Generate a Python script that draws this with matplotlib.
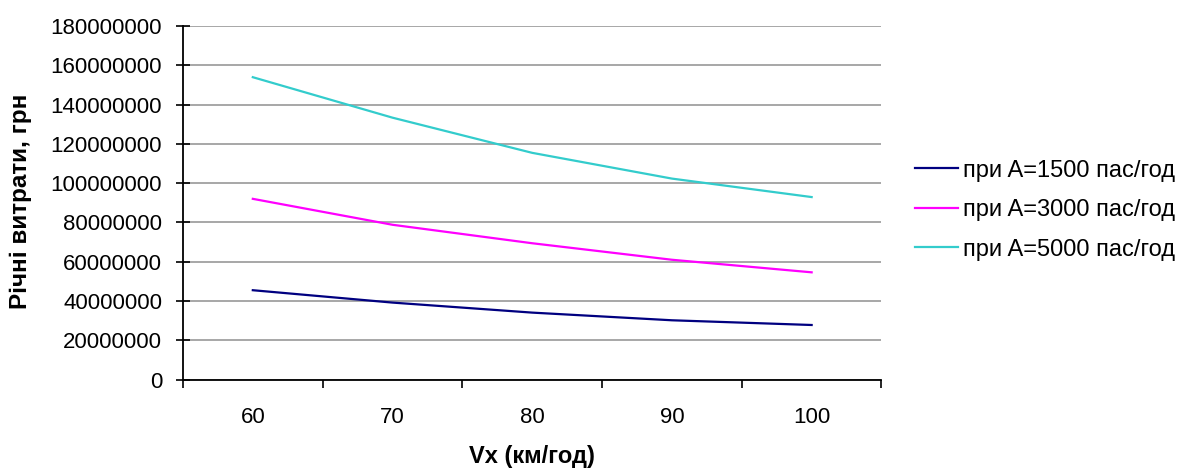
import numpy as np
import matplotlib
matplotlib.use("Agg")
import matplotlib.pyplot as plt
from matplotlib.ticker import FixedLocator, NullFormatter, FixedFormatter

# Vx, km/h
speeds = [60, 70, 80, 90, 100]

# annual costs, UAH, for each passenger flow
costs_1500 = [45500000, 39200000, 34100000, 30200000, 27800000]
costs_3000 = [92000000, 78800000, 69400000, 61000000, 54600000]
costs_5000 = [153900000, 133300000, 115400000, 102300000, 92900000]

series_labels = ["при A=1500 пас/год", "при A=3000 пас/год", "при A=5000 пас/год"]
series_colors = ["#000080", "#ff00ff", "#33cccc"]

plt.rcParams['font.family'] = ['Liberation Sans', 'DejaVu Sans']

fig = plt.figure(figsize=(11.88, 4.71), dpi=100)
ax = fig.add_axes([0.154, 0.194, 0.588, 0.751])

for vals, lab, col in zip([costs_1500, costs_3000, costs_5000], series_labels, series_colors):
    ax.plot(speeds, vals, color=col, lw=1.6, label=lab)

ax.set_ylim(0, 180000000)
ax.set_yticks(np.arange(0, 180000001, 20000000))
ax.yaxis.set_major_formatter(matplotlib.ticker.FuncFormatter(lambda v, p: "%d" % v))
ax.grid(axis='y', color='#a0a0a0', lw=1.3)
ax.set_axisbelow(True)

# category axis: tick marks between categories, labels at category centres
ax.set_xlim(55, 105)
ax.xaxis.set_major_locator(FixedLocator([55, 65, 75, 85, 95, 105]))
ax.xaxis.set_major_formatter(NullFormatter())
ax.xaxis.set_minor_locator(FixedLocator(speeds))
ax.xaxis.set_minor_formatter(FixedFormatter([str(s) for s in speeds]))
ax.tick_params(axis='x', which='major', direction='out', length=6, width=1.2, color='black')
ax.tick_params(axis='x', which='minor', length=0, pad=20, labelsize=16)
ax.tick_params(axis='y', direction='inout', length=10, width=1.2, pad=10, labelsize=16)

for s in ['top', 'right']:
    ax.spines[s].set_visible(False)
for s in ['left', 'bottom']:
    ax.spines[s].set_linewidth(1.3)
    ax.spines[s].set_color('black')

ax.set_xlabel("Vx (км/год)", fontsize=17, fontweight='bold')
ax.xaxis.set_label_coords(0.5, -0.185)
fig.text(21 / 1188, 0.572, "Річні витрати, грн", rotation=90, ha='center', va='center',
         fontsize=17.5, fontweight='bold')

fig.legend(loc='center left', bbox_to_anchor=(0.7525, 0.554), frameon=False,
           fontsize=17, handlelength=1.82, handletextpad=0.2, labelspacing=0.74)

fig.savefig("out.png", dpi=100)
